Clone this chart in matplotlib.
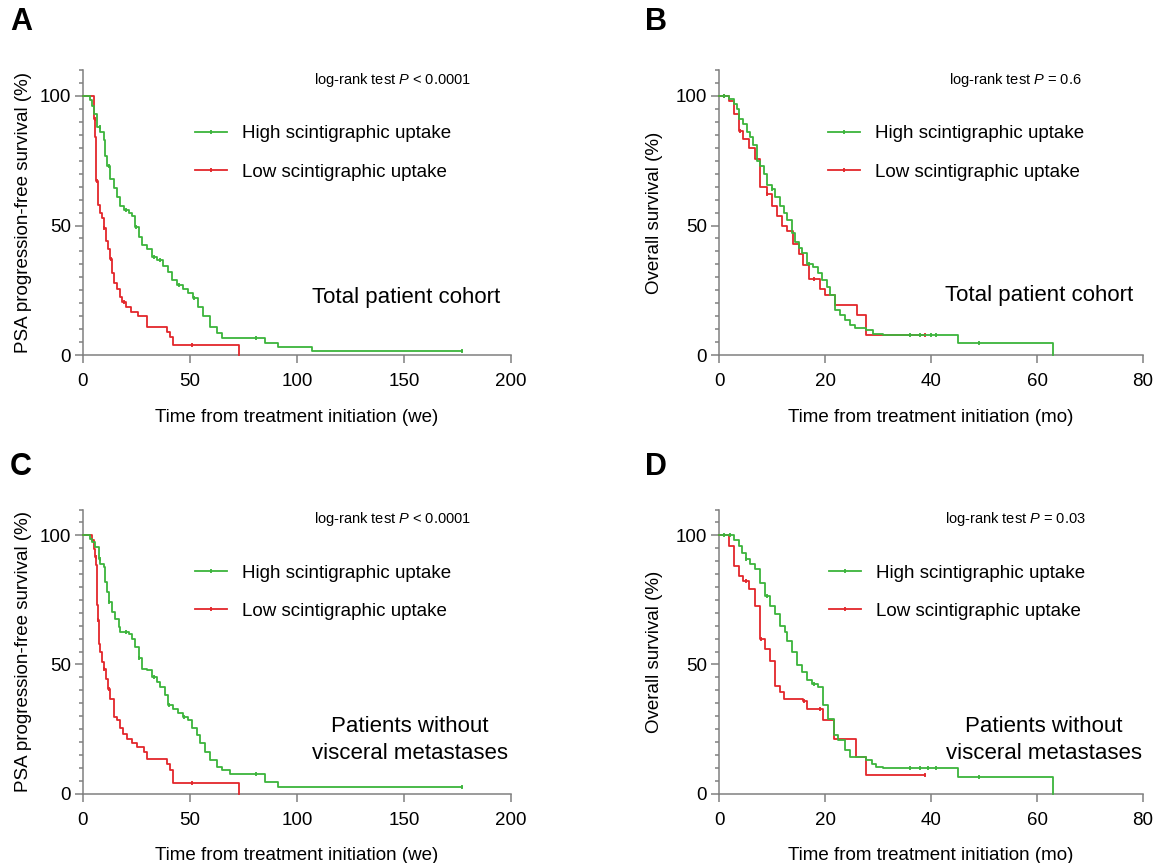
import numpy as np
import matplotlib
matplotlib.use('Agg')
import matplotlib.pyplot as plt
from matplotlib.lines import Line2D
from matplotlib.ticker import MultipleLocator

plt.rcParams['font.family'] = ['Liberation Sans', 'DejaVu Sans']
plt.rcParams['mathtext.fontset'] = 'custom'
plt.rcParams['mathtext.it'] = 'Liberation Sans:italic'
plt.rcParams['mathtext.rm'] = 'Liberation Sans'

GREEN = '#3cb43c'
RED = '#e3262b'
AXC = '#808080'

# ---- panel A: PSA PFS, total cohort (weeks)
a_hi_t = [0, 3.3, 4.2, 5.3, 6.5, 8.1, 9.6, 10.4, 11.2, 12.7, 14.3, 15.8, 17.4, 19.0, 21.3, 22.8, 24.4, 26.0,
          27.5, 29.8, 32.1, 34.5, 37.6, 39.9, 41.5, 43.8, 46.9, 49.2, 51.6, 53.9, 56.2, 59.3, 62.4, 64.8,
          85.0, 91.0, 107.0, 177.0]
a_hi_s = [100, 98.5, 96, 93, 88, 86, 83, 77, 73, 68, 64.5, 61, 57.5, 56, 55, 53.5, 49.5, 45.5,
          42.5, 41, 38, 36.5, 34.5, 32, 29, 27, 25.5, 24, 22, 18.5, 15, 11, 8.5, 6.5,
          4.8, 3.2, 1.7, 1.7]
a_hi_c = [8, 12, 20, 25, 33, 36, 45, 52, 81, 177]
a_lo_t = [0, 5.0, 5.7, 6.1, 6.2, 6.8, 8.1, 8.9, 9.6, 10.9, 11.5, 12.4, 13.5, 14.6, 15.8, 17.1, 18.2,
          20.2, 22.4, 25.9, 29.8, 39.1, 40.7, 42.2, 73.0]
a_lo_s = [100, 91, 84, 73, 67, 58, 55, 53, 49, 44, 41, 37, 31.5, 28, 25.5, 22.5, 20.5,
          18.5, 16.5, 15, 11, 9, 7, 4, 0]
a_lo_c = [5.5, 6.5, 10, 13, 19, 51]

# ---- panel B: OS, total cohort (months)
b_hi_t = [0, 1.8, 2.8, 3.4, 3.7, 4.6, 5.3, 5.9, 6.5, 7.1, 7.8, 8.4, 9.0, 10.0, 10.6, 11.5, 12.2, 12.8,
          13.7, 14.4, 15.0, 15.6, 16.6, 17.8, 18.7, 19.4, 20.3, 20.9, 21.9, 22.8, 23.8, 24.7, 25.6,
          27.8, 29.1, 31.0, 45.0, 63.0]
b_hi_s = [100, 98.7, 96.8, 95, 91, 89, 86, 84, 81, 75, 73, 70, 65.5, 64, 61, 57.7, 55, 52,
          47, 43.5, 41.5, 39.5, 35.3, 34, 31.5, 29, 26.3, 23, 17.3, 15.4, 13.5, 11.5, 10.3,
          9.6, 8.3, 7.6, 4.7, 0]
b_hi_c = [1, 10, 17, 36, 38, 40, 41, 49]
b_lo_t = [0, 1.8, 2.8, 2.9, 3.7, 4.6, 5.6, 6.8, 7.8, 9.0, 10.0, 10.9, 11.8, 12.8, 14.0, 15.0, 15.9,
          16.9, 19.0, 20.0, 21.9, 26.0, 27.8, 38.8]
b_lo_s = [100, 98, 97, 93, 86.5, 83.3, 80, 75.6, 64.7, 62.2, 57.7, 53.8, 50, 48, 43, 39, 34.6,
          29.5, 25.6, 23, 19.2, 15.4, 7.7, 7.7]
b_lo_c = [1, 4, 9, 18, 38.8]

# ---- panel C: PSA PFS, no visceral metastases (weeks)
c_hi_t = [0, 3.1, 4.2, 5.7, 7.3, 8.1, 9.6, 10.4, 11.2, 12.0, 13.5, 15.1, 16.6, 17.4, 21.3, 22.8, 24.4,
          26.0, 27.5, 29.8, 32.1, 34.5, 36.0, 38.4, 39.9, 42.2, 44.6, 46.9, 49.2, 50.8, 53.1, 54.7,
          57.0, 59.3, 62.4, 64.8, 68.6, 85.0, 91.0, 177.0]
c_hi_s = [100, 98.5, 97.4, 95.5, 91, 89, 87.7, 82, 78, 74.2, 70.3, 67.7, 64.5, 62.6, 61.9, 60, 56.8,
          52.3, 48.4, 47.7, 45.2, 43.2, 41.3, 38, 34.2, 32.9, 31, 29.7, 28.4, 25.2, 22.6, 19.4,
          16.1, 12.9, 10.3, 9, 7.7, 4.5, 2.6, 2.6]
c_hi_c = [8, 12, 20, 26, 33, 40, 47, 81, 177]
c_lo_t = [0, 4.0, 5.0, 5.7, 6.2, 6.5, 6.8, 7.3, 8.1, 8.9, 9.6, 10.9, 11.5, 12.4, 14.3, 15.8, 17.1,
          18.6, 20.5, 22.8, 25.2, 28.3, 29.8, 39.1, 40.7, 42.2, 73.0]
c_lo_s = [100, 98, 94.8, 91.6, 88.4, 72.9, 67.1, 58, 54.8, 51, 48.4, 44.5, 40.6, 36.8, 29.7, 28.4, 25.2,
          23.2, 21.3, 19.4, 18.1, 16.1, 13.5, 11.6, 9, 4, 0]
c_lo_c = [6, 7, 10, 12, 51]

# ---- panel D: OS, no visceral metastases (months)
d_hi_t = [0, 2.8, 3.7, 4.3, 5.0, 5.9, 6.8, 7.8, 8.7, 9.7, 10.6, 11.5, 12.5, 12.8, 13.7, 14.7, 15.6,
          16.6, 17.5, 18.7, 19.7, 20.6, 21.6, 22.5, 23.8, 24.7, 27.8, 28.8, 29.7, 31.0, 45.0, 63.0]
d_hi_s = [100, 98.2, 95.9, 93.3, 90.7, 88.8, 86.9, 81.7, 76.6, 72.7, 69.5, 65, 62.4, 59.2, 54.7, 49.6, 47,
          43.8, 42.5, 41.2, 34.1, 29, 22.5, 20.6, 16.7, 14.2, 12.9, 11.6, 10.3, 9.7, 6.4, 0]
d_hi_c = [1, 2, 5, 9, 18, 36, 38, 39.5, 41, 49]
d_lo_t = [0, 1.8, 2.8, 3.7, 4.6, 5.6, 6.8, 7.8, 8.7, 9.7, 10.6, 11.5, 12.2, 15.9, 16.6, 19.7, 21.6,
          25.8, 27.8, 38.9]
d_lo_s = [100, 95.9, 88.2, 84.3, 82.4, 79.2, 72.7, 59.8, 56, 51.5, 41.8, 39.3, 36.7, 36, 32.8, 28.3, 21.2,
          14.2, 7.1, 7.1]
d_lo_c = [5, 8, 16, 19, 38.9]

group_labels = ['High scintigraphic uptake', 'Low scintigraphic uptake']
pfs_label = 'PSA progression-free survival (%)'
os_label = 'Overall survival (%)'
x_label_we = 'Time from treatment initiation (we)'
x_label_mo = 'Time from treatment initiation (mo)'


def censor_y(t, s, xs):
    t = np.asarray(t)
    s = np.asarray(s)
    idx = np.searchsorted(t, xs, side='right') - 1
    return s[idx]


def draw_km(ax, t, s, cens, color):
    ax.step(t, s, where='post', color=color, lw=1.3, clip_on=False, zorder=3)
    ax.plot(cens, censor_y(t, s, cens), ls='none', marker='|', ms=3, mew=1.3,
            color=color, clip_on=False, zorder=3)


def draw_panel(ax, hi, lo, xmax, xstep, ylabel, xlabel, ptext, ptext_x, cohort, cohort_xy, leg_x, ylab_x):
    draw_km(ax, *lo, RED)
    draw_km(ax, *hi, GREEN)

    ax.set_xlim(0, xmax)
    ax.set_ylim(0, 110)
    ax.set_xticks(np.arange(0, xmax + 1, xstep))
    ax.set_yticks([0, 50, 100])
    ax.yaxis.set_minor_locator(MultipleLocator(5))
    for side in ['top', 'right']:
        ax.spines[side].set_visible(False)
    for side in ['left', 'bottom']:
        ax.spines[side].set_color(AXC)
        ax.spines[side].set_linewidth(1.1)
    ax.tick_params(which='major', length=6, width=1.1, color=AXC, labelsize=13.5, pad=2.5)
    ax.tick_params(axis='x', which='major', pad=7)
    ax.tick_params(which='minor', length=3, width=1.1, color=AXC)
    ax.tick_params(axis='x', which='minor', bottom=False)

    ax.set_ylabel(ylabel, fontsize=13.5)
    ax.yaxis.set_label_coords(ylab_x, 0.5)
    ax.set_xlabel(xlabel, fontsize=13.5)
    ax.xaxis.set_label_coords(0.5, -0.188)

    ax.text(ptext_x, 0.966, ptext, transform=ax.transAxes, fontsize=10.5, ha='center', va='center')
    ax.text(cohort_xy[0], cohort_xy[1], cohort, transform=ax.transAxes, fontsize=16,
            ha='center', va='center', linespacing=1.35)

    handles = [Line2D([], [], color=GREEN, lw=1.3, marker='|', ms=3, mew=1.3),
               Line2D([], [], color=RED, lw=1.3, marker='|', ms=3, mew=1.3)]
    ax.legend(handles, group_labels, loc='upper left', bbox_to_anchor=(leg_x, 0.806),
              frameon=False, fontsize=13.5, handlelength=1.7, handletextpad=0.8,
              labelspacing=1.13, borderpad=0, borderaxespad=0, numpoints=1)


fig = plt.figure(figsize=(11.59, 8.63), dpi=100)

axA = fig.add_axes([0.0716, 0.5886, 0.3693, 0.3302])
axB = fig.add_axes([0.6204, 0.5886, 0.3658, 0.3302])
axC = fig.add_axes([0.0716, 0.0805, 0.3693, 0.3291])
axD = fig.add_axes([0.6204, 0.0805, 0.3658, 0.3291])

draw_panel(axA, (a_hi_t, a_hi_s, a_hi_c), (a_lo_t, a_lo_s, a_lo_c), 200, 50, pfs_label, x_label_we,
           'log-rank test $P$ < 0.0001', 0.724, 'Total patient cohort', (0.756, 0.203), 0.262, -0.119)
draw_panel(axB, (b_hi_t, b_hi_s, b_hi_c), (b_lo_t, b_lo_s, b_lo_c), 80, 20, os_label, x_label_mo,
           'log-rank test $P$ = 0.6', 0.698, 'Total patient cohort', (0.755, 0.208), 0.257, -0.132)
draw_panel(axC, (c_hi_t, c_hi_s, c_hi_c), (c_lo_t, c_lo_s, c_lo_c), 200, 50, pfs_label, x_label_we,
           'log-rank test $P$ < 0.0001', 0.724, 'Patients without\nvisceral metastases', (0.764, 0.188),
           0.262, -0.119)
draw_panel(axD, (d_hi_t, d_hi_s, d_hi_c), (d_lo_t, d_lo_s, d_lo_c), 80, 20, os_label, x_label_mo,
           'log-rank test $P$ = 0.03', 0.698, 'Patients without\nvisceral metastases', (0.767, 0.188),
           0.259, -0.132)

for letter, (x, y) in zip('ABCD', [(0.018, 0.975), (0.566, 0.975), (0.018, 0.459), (0.566, 0.459)]):
    fig.text(x, y, letter, fontsize=22, fontweight='bold', ha='center', va='center')

fig.savefig('out.png', dpi=100)
